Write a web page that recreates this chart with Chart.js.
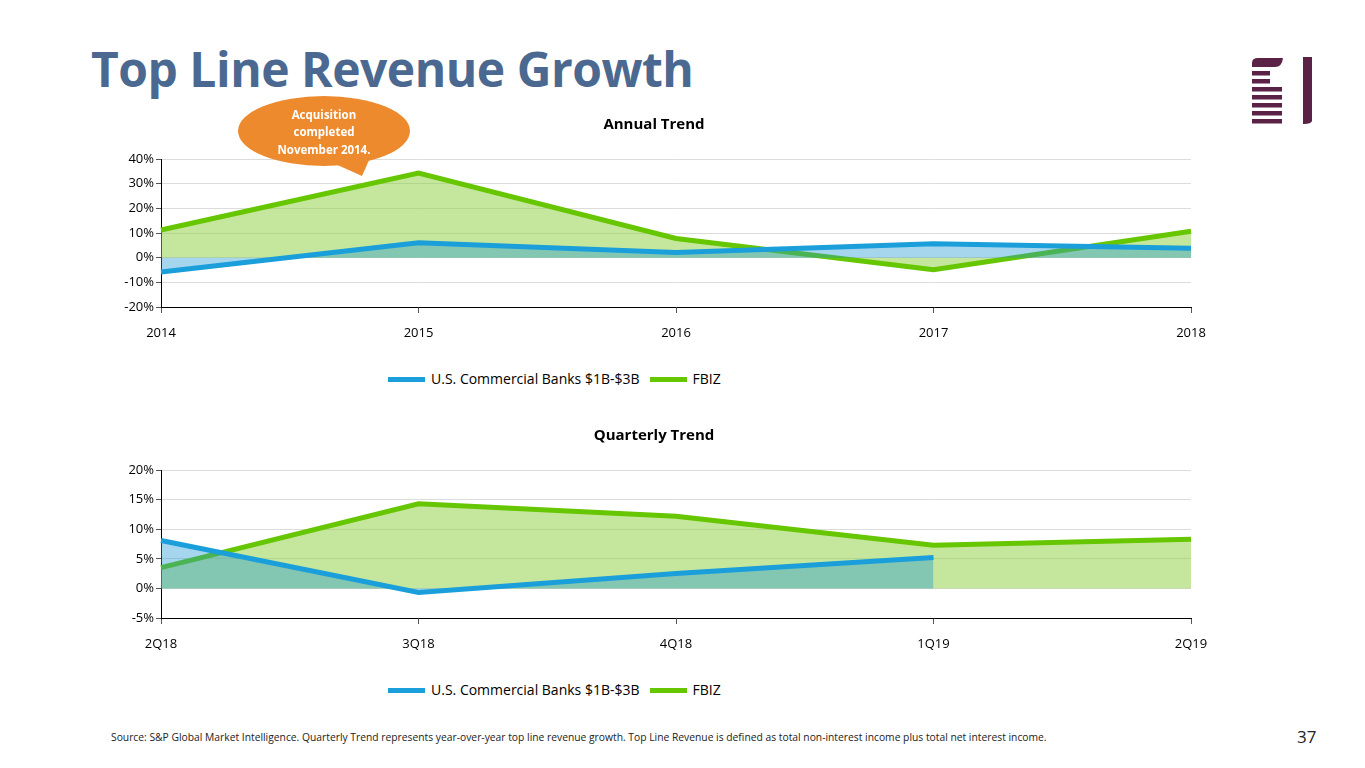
<!DOCTYPE html>
<html>
<head>
<meta charset="utf-8">
<script src="https://cdn.jsdelivr.net/npm/chart.js@4/dist/chart.umd.min.js"></script>
<style>
  html,body{margin:0;padding:0;background:#fff;width:1365px;height:768px;overflow:hidden;position:relative;font-family:"Open Sans",sans-serif;}
  #title{position:absolute;left:91px;top:39px;font-family:"Open Sans",sans-serif;font-weight:700;font-size:48px;line-height:60px;color:#4b6990;white-space:nowrap;letter-spacing:-0.5px;}
  canvas{position:absolute;left:0;}
  #c1{top:108px;}
  #c2{top:419px;}
  #callout{position:absolute;left:0;top:0;z-index:5;}
  #logo{position:absolute;left:0;top:0;}
  .legend{position:absolute;left:388px;height:20px;white-space:nowrap;font-size:14px;line-height:20px;color:#000;}
  .legend .item{display:inline-block;margin-right:10px;}
  .legend .sw{display:inline-block;width:37px;height:5px;vertical-align:middle;margin-right:6px;position:relative;top:-1px;}
  #lg1{top:369px;}
  #lg2{top:680px;}
  #footer{position:absolute;left:111px;top:730px;font-size:10.3px;line-height:14px;color:#222;white-space:nowrap;}
  #page{position:absolute;left:1297px;top:726px;font-size:17px;line-height:22px;color:#222;}
</style>
</head>
<body>
<div id="title">Top Line Revenue Growth</div>
<canvas id="c1" width="1365" height="254"></canvas>
<canvas id="c2" width="1365" height="254"></canvas>
<div class="legend" id="lg1"></div>
<div class="legend" id="lg2"></div>
<svg id="callout" width="1365" height="200">
  <ellipse cx="324" cy="131" rx="86" ry="35" fill="#ED8A2E"/>
  <polygon points="333,163 370,158 362,176" fill="#ED8A2E"/>
  <g fill="#fff" font-family="'Open Sans', sans-serif" font-weight="700" font-size="11.5" text-anchor="middle">
    <text x="324" y="119">Acquisition</text>
    <text x="324" y="136">completed</text>
    <text x="324" y="154">November 2014.</text>
  </g>
</svg>
<svg id="logo" width="1365" height="140">
  <g fill="#5a2345">
    <path d="M1252,67 L1252,63 Q1252,58 1258,58 L1283,58 Q1282,67 1275,67 Z"/>
    <rect x="1252" y="71" width="18" height="4.5"/>
    <rect x="1252" y="79" width="18" height="4.5"/>
    <rect x="1252" y="87" width="30" height="4.5"/>
    <rect x="1252" y="95" width="30" height="4.5"/>
    <rect x="1252" y="103" width="30" height="4.5"/>
    <rect x="1252" y="111" width="30" height="4.5"/>
    <rect x="1252" y="119" width="30" height="4.5"/>
    <path d="M1303,57 L1312,57 L1312,121 Q1311,124 1304,124 L1303,124 Z"/>
  </g>
</svg>
<div id="footer">Source: S&amp;P Global Market Intelligence. Quarterly Trend represents year-over-year top line revenue growth. Top Line Revenue is defined as total non-interest income plus total net interest income.</div>
<div id="page">37</div>
<script>
// ---- Data ----
const annualLabels = ['2014', '2015', '2016', '2017', '2018'];
const annualBanks  = [-5.8, 6.0, 2.1, 5.6, 3.8];
const annualFbiz   = [11.2, 34.3, 7.8, -4.9, 10.7];
const annualTicks  = { min: -20, max: 40, step: 10 };

const quarterLabels = ['2Q18', '3Q18', '4Q18', '1Q19', '2Q19'];
const quarterBanks  = [8.1, -0.7, 2.5, 5.2, null];
const quarterFbiz   = [3.5, 14.3, 12.2, 7.3, 8.3];
const quarterTicks  = { min: -5, max: 20, step: 5 };

const seriesNames = ['U.S. Commercial Banks $1B-$3B', 'FBIZ'];

// ---- Styles ----
const BLUE = '#1b9fda';
const GREEN = '#66c600';
const BLUE_FILL = 'rgba(32,152,212,0.4)';
const GREEN_FILL = 'rgba(140,208,60,0.5)';
const FONT = '"Open Sans", Lato, sans-serif';
const lineColors = [BLUE, GREEN];

function makeChart(id, title, labels, banks, fbiz, ticks) {
  return new Chart(document.getElementById(id), {
    type: 'line',
    data: {
      labels: labels,
      datasets: [
        { label: seriesNames[0], data: banks, borderColor: BLUE, backgroundColor: BLUE_FILL,
          borderWidth: 5, pointRadius: 0, fill: 'origin', tension: 0, spanGaps: false },
        { label: seriesNames[1], data: fbiz, borderColor: GREEN, backgroundColor: GREEN_FILL,
          borderWidth: 5, pointRadius: 0, fill: 'origin', tension: 0 }
      ]
    },
    options: {
      responsive: false,
      animation: false,
      layout: { padding: { left: 117, right: 174, top: 0, bottom: 0 } },
      plugins: {
        title: { display: true, text: title, color: '#000',
          font: { family: FONT, size: 15, weight: 'bold' }, padding: { top: 8, bottom: 25 } },
        legend: { display: false },
        tooltip: { enabled: false }
      },
      scales: {
        x: {
          offset: false,
          grid: { drawOnChartArea: false, drawTicks: true, tickLength: 6, tickColor: '#555' },
          border: { display: true, color: '#000', width: 1 },
          ticks: { color: '#000', font: { family: FONT, size: 13 }, padding: 12, maxRotation: 0 },
          afterFit: (s) => { s.height = 55; }
        },
        y: {
          min: ticks.min, max: ticks.max,
          grid: { color: '#dcdcdc', lineWidth: 1, tickLength: 5, tickColor: '#555' },
          border: { display: true, color: '#000', width: 1 },
          ticks: { stepSize: ticks.step, color: '#000', font: { family: FONT, size: 13 }, padding: 2,
            callback: (v) => v + '%' },
          afterFit: (s) => { s.width = 44; }
        }
      }
    }
  });
}

makeChart('c1', 'Annual Trend', annualLabels, annualBanks, annualFbiz, annualTicks);
makeChart('c2', 'Quarterly Trend', quarterLabels, quarterBanks, quarterFbiz, quarterTicks);

// HTML legends built from series names / colours
['lg1', 'lg2'].forEach(id => {
  const el = document.getElementById(id);
  seriesNames.forEach((name, i) => {
    const item = document.createElement('span');
    item.className = 'item';
    const sw = document.createElement('span');
    sw.className = 'sw';
    sw.style.background = lineColors[i];
    item.appendChild(sw);
    item.appendChild(document.createTextNode(name));
    el.appendChild(item);
  });
});
</script>
</body>
</html>
